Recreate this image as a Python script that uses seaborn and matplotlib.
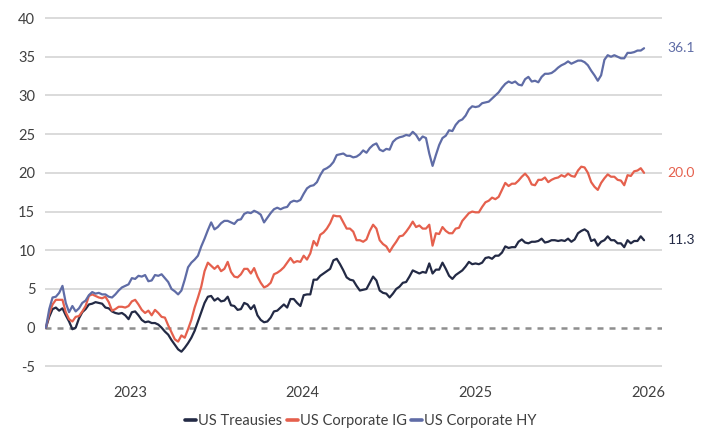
import numpy as np
import pandas as pd
import matplotlib
matplotlib.use("Agg")
import matplotlib.pyplot as plt
import matplotlib.dates as mdates
import seaborn as sns

# weekly cumulative returns (%)
dates = pd.date_range("2022-07-06", periods=182, freq="7D")

treasuries = [
    0.0, 1.4, 2.4, 2.6, 2.2, 2.5, 1.6, 0.8, -0.2, 0.0,
    1.2, 2.0, 2.4, 3.0, 3.1, 3.3, 3.2, 3.1, 2.6, 2.5,
    2.1, 1.9, 1.8, 1.9, 1.6, 1.1, 2.0, 2.1, 1.6, 1.0,
    0.7, 0.8, 0.6, 0.6, 0.4, 0.0, -0.5, -0.9, -1.6, -2.2,
    -2.8, -3.1, -2.6, -2.0, -1.3, -0.4, 0.8, 2.0, 3.2, 4.0,
    4.1, 3.5, 3.8, 3.4, 3.5, 4.0, 2.9, 2.8, 2.3, 2.4,
    3.2, 3.0, 2.4, 2.9, 1.6, 1.0, 0.7, 0.8, 1.3, 2.1,
    2.2, 2.6, 3.0, 2.6, 3.7, 3.7, 3.2, 2.8, 4.2, 4.3,
    4.3, 6.2, 6.2, 6.7, 7.0, 7.3, 7.6, 8.7, 8.9, 8.2,
    7.4, 6.5, 6.2, 6.1, 5.4, 4.8, 4.9, 5.0, 5.8, 6.6,
    6.1, 4.8, 4.5, 4.4, 3.9, 4.4, 5.0, 5.3, 5.8, 5.9,
    6.6, 7.4, 7.2, 7.0, 7.2, 7.1, 8.3, 7.0, 7.5, 7.5,
    8.4, 7.6, 6.7, 6.3, 6.8, 7.1, 7.4, 7.9, 8.5, 8.2,
    8.3, 8.2, 8.4, 9.0, 9.1, 8.9, 9.3, 9.3, 9.7, 10.5,
    10.3, 10.4, 10.4, 11.1, 11.4, 11.0, 10.9, 11.1, 11.1, 11.2,
    11.5, 11.0, 11.1, 11.3, 11.3, 11.2, 11.3, 11.2, 11.5, 11.1,
    11.4, 12.2, 12.5, 12.7, 12.4, 11.2, 11.4, 10.6, 11.1, 11.3,
    11.8, 11.3, 11.3, 10.9, 10.9, 10.4, 11.3, 10.9, 11.2, 11.2,
    11.8, 11.3,
]

corp_ig = [
    0.0, 1.8, 3.0, 3.6, 3.6, 3.6, 2.0, 1.1, 0.8, 1.4,
    1.5, 2.1, 2.8, 4.1, 4.3, 4.1, 3.9, 3.8, 4.0, 3.3,
    2.2, 2.4, 2.7, 2.7, 2.6, 2.8, 3.4, 3.6, 3.0, 2.3,
    1.9, 2.2, 1.6, 2.3, 1.9, 1.4, 1.3, 0.3, -0.6, -1.5,
    -1.8, -1.0, -1.3, -0.2, 1.0, 2.6, 3.9, 5.3, 7.3, 8.4,
    8.0, 7.6, 8.0, 7.3, 7.6, 8.5, 7.2, 6.6, 6.5, 6.9,
    7.6, 7.6, 7.0, 7.7, 6.6, 5.8, 5.2, 5.4, 5.8, 6.9,
    7.1, 7.4, 7.8, 8.4, 9.0, 8.4, 8.6, 8.5, 9.3, 8.8,
    9.6, 11.2, 10.6, 12.0, 12.3, 12.8, 13.5, 14.5, 14.4, 14.4,
    13.6, 12.8, 12.8, 12.4, 11.3, 11.3, 11.1, 11.4, 12.5, 13.3,
    12.8, 11.3, 10.8, 10.5, 9.8, 10.5, 11.1, 11.8, 11.9, 12.4,
    13.0, 13.7, 13.0, 13.2, 12.8, 12.8, 13.3, 10.6, 12.2, 12.1,
    13.0, 12.5, 12.2, 12.2, 12.8, 12.9, 13.8, 14.3, 14.8, 15.0,
    14.9, 14.9, 15.6, 16.2, 16.4, 16.8, 16.6, 16.9, 17.8, 18.7,
    18.3, 18.6, 18.6, 19.0, 19.5, 19.9, 19.4, 18.5, 18.4, 19.1,
    19.1, 19.4, 18.8, 19.1, 19.3, 19.4, 19.7, 19.5, 19.9, 19.6,
    19.5, 20.3, 20.8, 20.7, 20.0, 18.8, 18.2, 17.8, 18.7, 19.3,
    19.8, 19.5, 19.5, 19.1, 19.0, 18.4, 19.7, 19.6, 20.2, 20.3,
    20.6, 20.0,
]

corp_hy = [
    0.0, 2.4, 3.9, 4.0, 4.5, 5.4, 3.2, 2.0, 2.8, 2.1,
    2.5, 3.2, 3.5, 4.2, 4.6, 4.4, 4.5, 4.3, 4.3, 4.0,
    3.9, 4.3, 4.8, 5.2, 5.4, 5.6, 6.4, 6.3, 6.7, 6.6,
    6.8, 6.0, 6.1, 6.8, 6.7, 6.9, 6.4, 5.9, 5.0, 4.7,
    4.3, 4.8, 6.2, 7.8, 8.4, 8.8, 9.3, 10.5, 11.5, 12.6,
    13.6, 12.7, 13.0, 13.5, 13.8, 13.8, 13.6, 13.4, 13.9, 14.0,
    14.7, 14.9, 14.8, 15.1, 14.9, 14.6, 13.6, 14.2, 14.8, 15.3,
    15.5, 15.3, 15.5, 15.6, 16.2, 16.4, 16.3, 16.5, 17.3, 18.0,
    18.3, 18.4, 18.8, 19.7, 20.4, 20.6, 20.9, 21.4, 22.3, 22.4,
    22.5, 22.2, 22.2, 22.0, 22.1, 22.4, 22.9, 22.6, 23.2, 23.6,
    23.8, 23.0, 22.8, 23.1, 23.0, 24.0, 24.4, 24.6, 24.7, 24.9,
    24.8, 25.3, 24.9, 24.2, 24.7, 24.5, 22.5, 20.9, 22.3, 23.6,
    24.5, 24.8, 25.5, 25.4, 26.2, 26.7, 26.9, 27.4, 28.2, 28.6,
    28.5, 28.6, 29.0, 29.1, 29.2, 29.6, 30.0, 30.4, 31.0, 31.5,
    31.8, 31.6, 31.8, 31.4, 31.3, 32.1, 32.4, 31.8, 31.9, 31.7,
    32.4, 32.8, 32.8, 32.9, 33.2, 33.6, 33.9, 34.1, 34.4, 34.1,
    34.3, 34.5, 34.5, 34.3, 33.9, 33.2, 32.6, 31.9, 32.6, 34.6,
    35.2, 35.0, 35.2, 35.0, 34.8, 34.8, 35.5, 35.5, 35.6, 35.8,
    35.8, 36.1,
]

series_names = ["US Treausies", "US Corporate IG", "US Corporate HY"]
colors = ["#232a45", "#e5604d", "#5f6ca6"]
year_labels = ["2023", "2024", "2025", "2026"]
y_ticks = list(range(-5, 41, 5))

df = pd.DataFrame({"date": dates,
                   series_names[0]: treasuries,
                   series_names[1]: corp_ig,
                   series_names[2]: corp_hy})
df = df.melt(id_vars="date", var_name="series", value_name="ret")

sns.set_style("white")
plt.rcParams["font.family"] = ["Lato", "DejaVu Sans"]
text_col = "#404040"

fig = plt.figure(figsize=(7.07, 4.30), dpi=100)
ax = fig.add_axes([45 / 707, 1 - 378 / 430, 617 / 707, 367.7 / 430])

# gridlines and dashed zero line
for t in y_ticks:
    if t != 0:
        ax.axhline(t, color="#d4d4d4", lw=1.2, zorder=0)
ax.axhline(0, color="#8e8e8e", lw=1.8, dashes=(2.4, 2.4), zorder=1)

sns.lineplot(data=df, x="date", y="ret", hue="series",
             palette=dict(zip(series_names, colors)),
             linewidth=1.6, ax=ax, zorder=3)

ax.set_ylim(-6.5, 41)
ax.set_xlim(pd.Timestamp("2022-07-04"), pd.Timestamp("2026-01-31"))
ax.set_yticks(y_ticks)
ax.set_yticklabels([str(t) for t in y_ticks])
ax.set_xlabel("")
ax.set_ylabel("")
for s in ax.spines.values():
    s.set_visible(False)

# tick marks at mid-year, year labels at Jan 1
ax.xaxis.set_major_locator(mdates.MonthLocator(bymonth=7, bymonthday=1))
ax.xaxis.set_major_formatter(plt.NullFormatter())
ax.xaxis.set_minor_locator(mdates.YearLocator(month=1, day=1))
ax.xaxis.set_minor_formatter(mdates.DateFormatter("%Y"))
ax.tick_params(axis="x", which="major", length=4, width=1, color="#c4c4c4", direction="out")
ax.tick_params(axis="x", which="minor", length=0, pad=6, labelsize=10.5, labelcolor=text_col)
ax.tick_params(axis="y", length=0, pad=7, labelsize=10.5, labelcolor=text_col)

# end-value labels
for vals, c in zip([treasuries, corp_ig, corp_hy], colors):
    ax.annotate(f"{vals[-1]:.1f}", xy=(dates[-1], vals[-1]), xytext=(17, 0),
                textcoords="offset points", va="center", ha="left",
                color=c, fontsize=10, annotation_clip=False)

sns.move_legend(ax, "center", bbox_to_anchor=(0.512, -0.117), ncol=3,
                frameon=False, title=None, fontsize=10.5,
                handlelength=0.75, handletextpad=0.15, columnspacing=0.3)
leg = ax.get_legend()
for line in leg.get_lines():
    line.set_linewidth(2.6)
for txt in leg.get_texts():
    txt.set_color(text_col)

fig.savefig("out.png", dpi=100)
